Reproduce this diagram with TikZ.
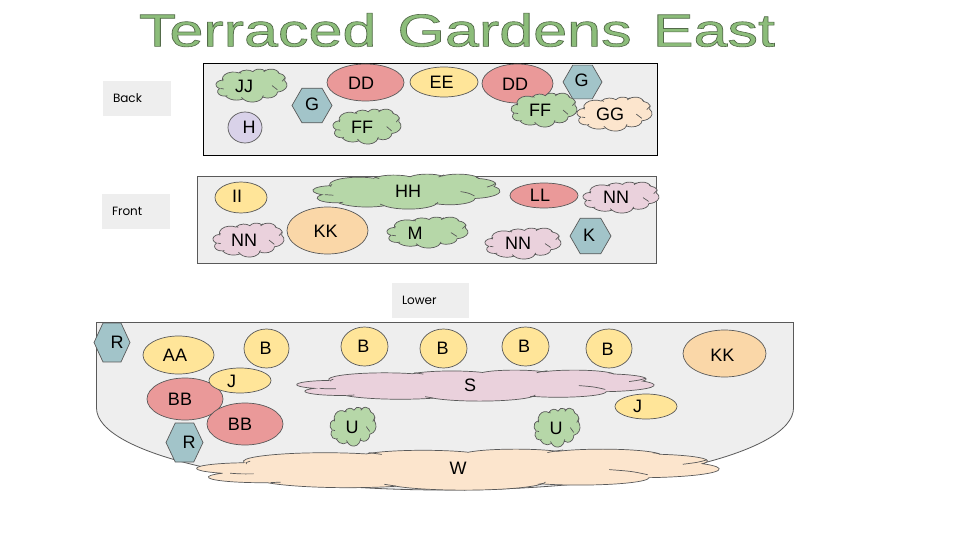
\documentclass[tikz,border=0pt]{standalone}
\usepackage{fontspec}
\setmainfont{Liberation Sans}
\newfontfamily\tagfont{Poppins}
\usetikzlibrary{shapes.geometric}
\definecolor{bedgray}{HTML}{EEEEEE}
\definecolor{edgegray}{HTML}{595959}
\definecolor{redfill}{HTML}{EA9999}
\definecolor{yellowfill}{HTML}{FFE599}
\definecolor{greenfill}{HTML}{B6D7A8}
\definecolor{tealfill}{HTML}{A2C4C9}
\definecolor{purplefill}{HTML}{D9D2E9}
\definecolor{pinkfill}{HTML}{EAD1DC}
\definecolor{peachfill}{HTML}{FCE5CD}
\definecolor{orangefill}{HTML}{FAD7A8}
\tikzset{
	every label/.style={font=\fontsize{18}{20}\selectfont, inner sep=0pt},
	plant/.style={draw=edgegray, line width=0.7pt, inner sep=0pt, outer sep=0pt},
	oval/.style={plant, ellipse},
	hex/.style={plant, regular polygon, regular polygon sides=6, fill=tealfill},
	bushlabel/.style={font=\fontsize{18}{20}\selectfont, inner sep=0pt},
	tagbox/.style={fill=bedgray, inner sep=0pt, minimum height=35pt, text width=48pt, align=left,
		font=\tagfont\fontsize{12}{14}\selectfont},
}
% radii and angles of the puffs, on a 432 by 432 grid
\newcommand{\cloudarcs}{67.53/91.90/-190.487/123.781, 53.33/72.67/-144.102/89.945,
	43.65/59.45/-145.808/99.723, 48.57/65.95/-130.986/117.242,
	53.33/72.73/-78.709/109.027, 67.75/92.20/-46.267/130.269,
	57.85/78.67/0.625/114.033, 67.52/92.15/22.452/115.173,
	77.20/105.43/66.243/75.711, 43.60/59.18/-274.942/146.736,
	43.45/59.45/-246.825/152.517}
% fill, name, left, top, width, height, text x, text y, text
\newcommand{\gardenbush}[9]{
	\begin{scope}[shift={(#3,#4)}, x=#5pt/432, y=-#6pt/432]
		\draw[plant, fill=#1] (39,143.7)
			\foreach \rx/\ry/\st/\sw [evaluate=\st as \ta using {atan2(\rx*sin(\st),\ry*cos(\st))},
				evaluate=\sw as \tb using {atan2(\rx*sin(\st+\sw),\ry*cos(\st+\sw))},
				evaluate=\sw as \dl using {mod(\tb-\ta+720,360)}] in \cloudarcs {
				arc[x radius=\rx, y radius=\ry, start angle=\ta, delta angle=\dl]
			} -- cycle;
		\draw[plant] (46.9,261.8) .. controls (36,263) .. (27.4,255)
			(69.3,349) .. controls (65,352) .. (61,354)
			(164.8,390.9) .. controls (160,380) .. (155,372)
			(288.3,347.5) .. controls (288,360) .. (282,372)
			(341,217) .. controls (360,235) .. (373,271)
			(422,114) .. controls (415,140) .. (402,161)
			(383,54) .. controls (382,46) .. (377,40)
			(290,38) .. controls (295,24) .. (303,10)
			(142,38) .. controls (148,44) .. (153,57)
			(41,158) .. controls (40,145) .. (44,128);
	\end{scope}
	\node[bushlabel] (#2) at (#7,#8) {#9};
}
\begin{document}
\begin{tikzpicture}[x=1pt, y=-1pt]
	\useasboundingbox (0,0) rectangle (960,540);
	% title
	\node[inner sep=0pt, xscale=1.327] (title) at (457,30) {\fontsize{46}{50}\selectfont
		\special{pdf:code 2 Tr 0.6 w 0.33 0.42 0.29 RG 0.55 0.74 0.48 rg}Terraced\hspace{16pt}Gardens\hspace{16pt}East\special{pdf:code 0 Tr}};
	% labels
	\node[tagbox, minimum width=68pt] (backtag) at (137,98.5) {Back};
	\node[tagbox, minimum width=68pt] (fronttag) at (136,211.5) {Front};
	\node[tagbox, minimum width=77pt, text width=57pt] (lowertag) at (430.5,300.5) {Lower};
	% back bed
	\node[draw=black, fill=bedgray, line width=0.8pt, minimum width=454pt, minimum height=92pt, inner sep=0pt] (backbed) at (430.5,109.5) {};
	\gardenbush{greenfill}{jj}{216}{69}{71}{33}{244}{86}{JJ}
	\node[oval, fill=redfill, minimum width=77pt, minimum height=37pt, label={[shift={(-4.5pt,-0.5pt)}]center:DD}] (dda) at (365.5,82.5) {};
	\node[oval, fill=yellowfill, minimum width=68pt, minimum height=30pt, label={[shift={(-2.5pt,-0.5pt)}]center:EE}] (ee) at (444,82) {};
	\node[oval, fill=redfill, minimum width=71pt, minimum height=39pt, label={[shift={(-2.5pt,-0.5pt)}]center:DD}] (ddb) at (517.5,83.5) {};
	\node[hex, minimum size=40pt, label={[shift={(0pt,0.8pt)}]center:G}] (ga) at (312,105.5) {};
	\node[oval, fill=purplefill, minimum width=34pt, minimum height=31pt, label={[shift={(4pt,0pt)}]center:H}] (h) at (245,127.5) {};
	\gardenbush{greenfill}{ffa}{333}{109}{68}{35}{362}{127}{FF}
	\node[hex, minimum size=39pt, label={[shift={(-0.8pt,1.3pt)}]center:G}] (gb) at (582.5,82) {};
	\gardenbush{greenfill}{ffb}{511}{93}{66}{34}{540}{110}{FF}
	\gardenbush{peachfill}{gg}{577}{97}{75}{34}{610}{114}{GG}
	% front bed
	\node[draw=edgegray, fill=bedgray, line width=0.8pt, minimum width=459pt, minimum height=87pt, inner sep=0pt] (frontbed) at (427,220) {};
	\node[oval, fill=yellowfill, minimum width=52pt, minimum height=31pt, label={[shift={(-4pt,0.8pt)}]center:II}] (ii) at (241,197.5) {};
	\gardenbush{greenfill}{hh}{313}{174}{187}{35}{408}{191}{HH}
	\node[oval, fill=redfill, minimum width=68pt, minimum height=25pt, label={[shift={(-4pt,0.5pt)}]center:LL}] (ll) at (544,195.5) {};
	\gardenbush{pinkfill}{nna}{583}{182}{76}{31}{616}{197}{NN}
	\gardenbush{pinkfill}{nnb}{213}{223}{71}{34}{244}{240}{NN}
	\node[oval, fill=orangefill, minimum width=81pt, minimum height=47pt, label={[shift={(-1.8pt,-0.5pt)}]center:KK}] (kka) at (327.5,230.5) {};
	\gardenbush{greenfill}{m}{387}{217}{81}{31}{415}{233}{M}
	\gardenbush{pinkfill}{nnc}{485}{228}{76}{31}{518}{243}{NN}
	\node[hex, minimum size=41pt, label={[shift={(-1.5pt,1pt)}]center:K}] (k) at (590.5,236) {};
	% lower bed
	\draw[draw=edgegray, fill=bedgray, line width=0.8pt] (96.5,322.5) -- (793.5,322.5) -- (793.5,408)
		arc[start angle=0, end angle=180, x radius=348.5, y radius=82] -- cycle;
	\node[hex, transform shape, yscale=1.25, minimum size=36pt, label={[shift={(5pt,0pt)}]center:R}] (ra) at (112,342.5) {};
	\node[oval, fill=yellowfill, minimum width=71pt, minimum height=38pt, label={[shift={(-3.5pt,-0.7pt)}]center:AA}] (aa) at (178.5,355) {};
	\node[oval, fill=yellowfill, minimum width=45pt, minimum height=39pt, label={[shift={(-0.8pt,0pt)}]center:B}] (ba) at (266.5,348.5) {};
	\node[oval, fill=yellowfill, minimum width=47pt, minimum height=39pt, label={[shift={(-1.2pt,0pt)}]center:B}] (bb) at (364.5,346.5) {};
	\node[oval, fill=yellowfill, minimum width=47pt, minimum height=39pt, label={[shift={(-0.8pt,0pt)}]center:B}] (bc) at (443.5,348.5) {};
	\node[oval, fill=yellowfill, minimum width=47pt, minimum height=39pt, label={[shift={(-1.5pt,0pt)}]center:B}] (bd) at (525.5,346.5) {};
	\node[oval, fill=yellowfill, minimum width=46pt, minimum height=39pt, label={[shift={(-1.3pt,-0.5pt)}]center:B}] (be) at (609,348.5) {};
	\node[oval, fill=orangefill, minimum width=83pt, minimum height=47pt, label={[shift={(-2.2pt,-1.5pt)}]center:KK}] (kkb) at (724.5,353.5) {};
	\node[oval, fill=redfill, minimum width=76pt, minimum height=42pt, label={[shift={(-5pt,0pt)}]center:BB}] (bba) at (185,399) {};
	\node[oval, fill=yellowfill, minimum width=62pt, minimum height=25pt, label={[shift={(-8.3pt,-0.5pt)}]center:J}] (ja) at (240,380.5) {};
	\node[oval, fill=redfill, minimum width=76pt, minimum height=42pt, label={[shift={(-5pt,0pt)}]center:BB}] (bbb) at (245,424) {};
	\node[hex, transform shape, yscale=1.217, minimum size=37pt, label={[shift={(4.5pt,0pt)}]center:R}] (rb) at (184.5,442.5) {};
	\gardenbush{pinkfill}{s}{297}{370}{357}{31}{470}{385}{S}
	\node[oval, fill=yellowfill, minimum width=62pt, minimum height=25pt, label={[shift={(-8.3pt,0pt)}]center:J}] (jb) at (646,406.5) {};
	\gardenbush{greenfill}{ua}{330}{407}{46}{39}{352}{427}{U}
	\gardenbush{greenfill}{ub}{534}{408}{46}{39}{556}{428}{U}
	\gardenbush{peachfill}{w}{197}{449}{522}{41}{458}{468}{W}
\end{tikzpicture}
\end{document}
